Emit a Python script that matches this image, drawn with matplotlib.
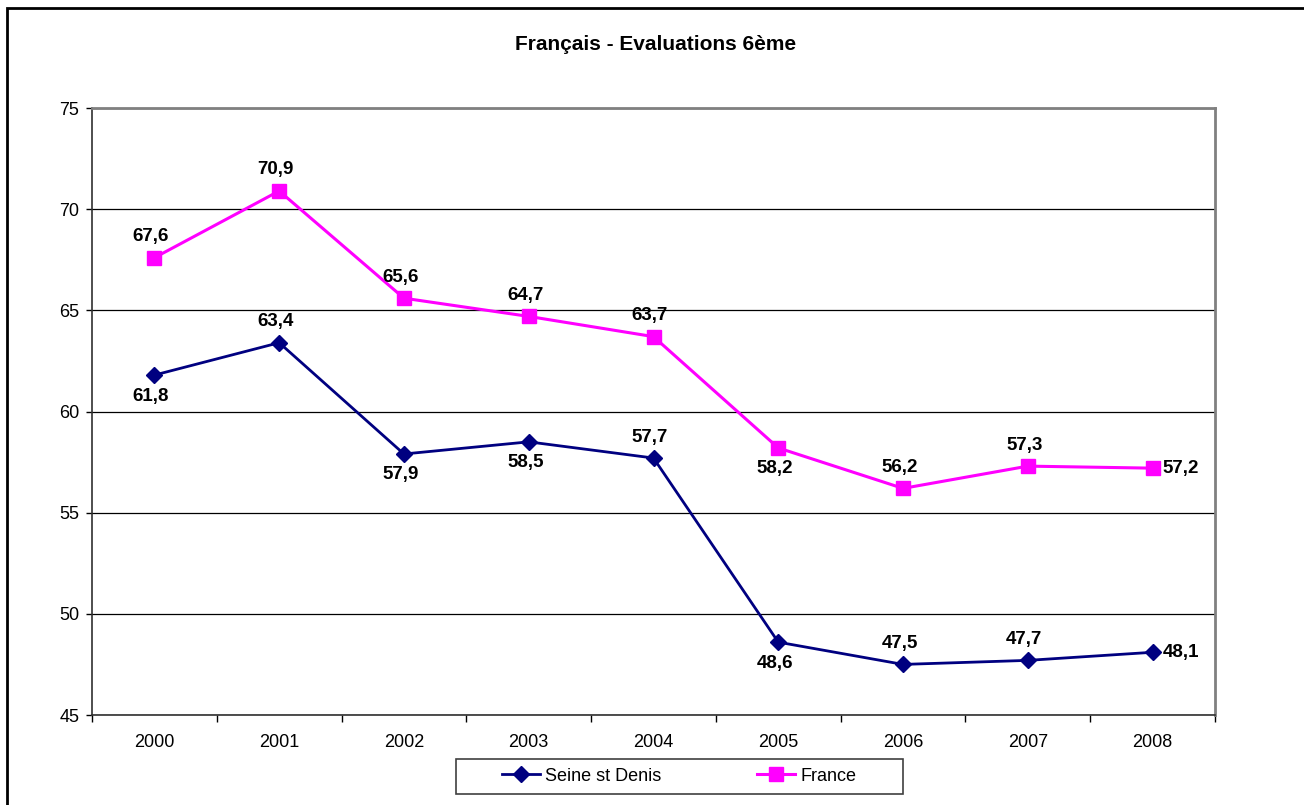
import numpy as np
import matplotlib.pyplot as plt
from matplotlib.patches import Rectangle

plt.rcParams['font.family'] = ['Liberation Sans', 'DejaVu Sans']

# ---- data ----
years = ["2000", "2001", "2002", "2003", "2004", "2005", "2006", "2007", "2008"]
seine = [61.8, 63.4, 57.9, 58.5, 57.7, 48.6, 47.5, 47.7, 48.1]
france = [67.6, 70.9, 65.6, 64.7, 63.7, 58.2, 56.2, 57.3, 57.2]

# label position for each point: 'a' above, 'b' below, 'r' right
seine_pos = ["b", "a", "b", "b", "a", "b", "a", "a", "r"]
france_pos = ["a", "a", "a", "a", "a", "b", "a", "a", "r"]

fig = plt.figure(figsize=(13.04, 8.05), dpi=100)
ax = fig.add_axes([92 / 1304, 90 / 805, 1123 / 1304, 607 / 805])

x = np.arange(len(years))
ax.plot(x, seine, color="#000080", lw=2, marker="D", ms=8.5, label="Seine st Denis", zorder=3)
ax.plot(x, france, color="#FF00FF", lw=2.2, marker="s", ms=9.5, label="France", zorder=3)


def put_labels(vals, pos):
    for xi, v, p in zip(x, vals, pos):
        s = f"{v:.1f}".replace(".", ",")
        if p == "a":
            off, ha, va = (-2.5, 9), "center", "bottom"
        elif p == "b":
            off, ha, va = (-2.5, -9), "center", "top"
        else:
            off, ha, va = (7, 0), "left", "center"
        ax.annotate(s, (xi, v), xytext=off, textcoords="offset points",
                    ha=ha, va=va, fontsize=13.5, fontweight="bold", zorder=4)


put_labels(seine, seine_pos)
put_labels(france, france_pos)

ax.set_xlim(-0.5, len(years) - 0.5)
ax.set_ylim(45, 75)
ax.set_yticks(np.arange(45, 76, 5))
ax.yaxis.grid(True, color="black", lw=0.9)
ax.set_axisbelow(True)

ax.set_xticks(np.arange(-0.5, len(years), 1))
ax.set_xticklabels([])
ax.set_xticks(x, minor=True)
ax.set_xticklabels(years, minor=True)
ax.tick_params(axis="x", which="minor", length=0, pad=14, labelsize=13)
ax.tick_params(axis="x", which="major", length=5, width=1, direction="out")
ax.tick_params(axis="y", length=4, width=1, direction="out", pad=5, labelsize=13)

for side in ["top", "right"]:
    ax.spines[side].set_color("#808080")
    ax.spines[side].set_linewidth(2)
for side in ["left", "bottom"]:
    ax.spines[side].set_color("#303030")
    ax.spines[side].set_linewidth(1.2)

fig.text(656 / 1304, 1 - 45 / 805, "Français - Evaluations 6ème", ha="center", va="center",
         fontsize=15, fontweight="bold")

# legend contents without frame, box drawn separately
leg = fig.legend(loc="center", bbox_to_anchor=(679 / 1304, 1 - 776 / 805), ncol=2,
                 fontsize=13, frameon=False, handlelength=2.1,
                 columnspacing=5.3, handletextpad=0.3)
fig.add_artist(Rectangle((456 / 1304, 1 - 794 / 805), 447 / 1304, 35 / 805,
                         transform=fig.transFigure, fill=False, edgecolor="#404040", lw=1.2))

# outer chart border (left + top visible)
fig.add_artist(Rectangle((7 / 1304, -0.05), 1.2, 1 - 8 / 805 + 0.05, transform=fig.transFigure,
                         fill=False, edgecolor="black", lw=2))

fig.savefig("out.png", dpi=100)
